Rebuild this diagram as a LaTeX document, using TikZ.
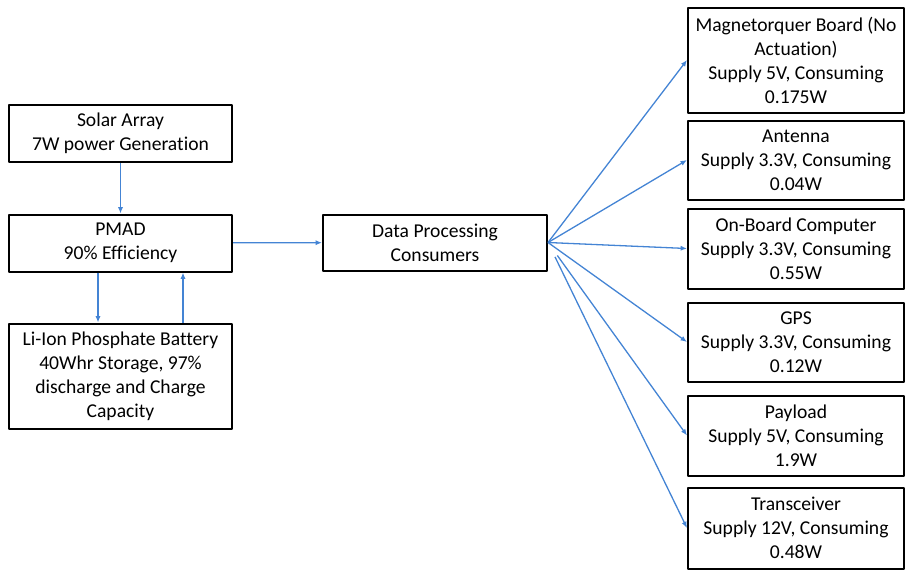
\documentclass[tikz,border=0pt]{standalone}
\usepackage{fontspec}
\setmainfont{Carlito}[Ligatures=NoCommon]
\usetikzlibrary{arrows.meta}
\definecolor{linkblue}{RGB}{68,132,212}
\begin{document}
\begin{tikzpicture}[x=0.5pt, y=-0.5pt, line join=round,
		box/.style={draw, line width=1pt, align=center, inner sep=0pt, font=\fontsize{9.8}{12}\selectfont},
		srcbox/.style={box, minimum width=111.5pt},
		loadbox/.style={box, minimum width=108pt},
		link/.style={draw=linkblue, line width=0.65pt, -{Latex[length=3.2pt,width=2.6pt]}}]
			\useasboundingbox (0,0) rectangle (905,569);
			\node[srcbox, minimum height=28.5pt] (solar) at (120.5,133.5) {Solar Array\\7W power Generation};
			\node[srcbox, minimum height=28.5pt] (pmad) at (120.5,243) {PMAD\\90\% Efficiency};
			\node[srcbox, minimum height=52.5pt] (batt) at (120.5,376) {Li-Ion Phosphate Battery\\40Whr Storage, 97\%\\discharge and Charge\\Capacity};
			\node[box, minimum width=112pt, minimum height=28pt] (data) at (435,242.5) {Data Processing\\Consumers};
			\node[loadbox, minimum height=52.5pt] (mag) at (796,60) {Magnetorquer Board (No\\Actuation)\\Supply 5V, Consuming\\0.175W};
			\node[loadbox, minimum height=39.5pt] (ant) at (796,160) {Antenna\\Supply 3.3V, Consuming\\0.04W};
			\node[loadbox, minimum height=40pt] (obc) at (796,248.5) {On-Board Computer\\Supply 3.3V, Consuming\\0.55W};
			\node[loadbox, minimum height=39.5pt] (gps) at (796,342) {GPS\\Supply 3.3V, Consuming\\0.12W};
			\node[loadbox, minimum height=40pt] (pay) at (796,435.5) {Payload\\Supply 5V, Consuming\\1.9W};
			\node[loadbox, minimum height=40.5pt] (trx) at (796,528) {Transceiver\\Supply 12V, Consuming\\0.48W};
			\draw[link] (solar) -- (pmad);
			\draw[link] ([xshift=-11.25pt]pmad.south) -- ([xshift=-11.25pt]batt.north);
			\draw[link] ([xshift=31.25pt]batt.north) -- ([xshift=31.25pt]pmad.south);
			\draw[link] (pmad) -- (data);
			\draw[link] (data.east) -- (mag.west);
			\draw[link] (data.east) -- (ant.west);
			\draw[link] (data.east) -- (obc.west);
			\draw[link] (data.east) -- (gps.west);
			\draw[link, shorten <=8pt] (data.east) -- (pay.west);
			\draw[link, shorten <=8pt] (data.east) -- (trx.west);
		\end{tikzpicture}
\end{document}
